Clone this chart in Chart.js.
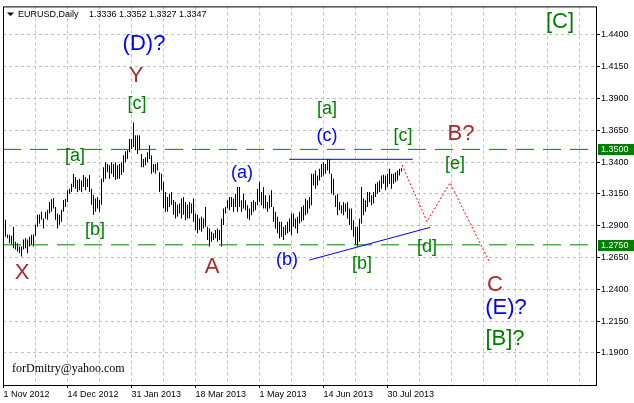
<!DOCTYPE html>
<html>
<head>
<meta charset="utf-8">
<title>EURUSD Daily</title>
<script src="https://cdn.jsdelivr.net/npm/chart.js@4/dist/chart.umd.min.js"></script>
<style>
    html, body { margin: 0; padding: 0; background: #ffffff; }
    canvas { display: block; }
</style>
</head>
<body>
<canvas id="chart" width="634" height="403"></canvas>
<script>
'use strict';

// daily bars, 1 Nov 2012 onwards (bar number 1 = first bar right of the frame)
var highs = [
    1.2947, 1.2832, 1.2830, 1.2822, 1.2892, 1.2775, 1.2762, 1.2736, 1.2736, 1.2791,
    1.2801, 1.2791, 1.2814, 1.2830, 1.2832, 1.2908, 1.2986, 1.2988, 1.3009, 1.2957,
    1.3009, 1.3025, 1.3087, 1.3110, 1.3118, 1.3048, 1.2996, 1.2986, 1.3025, 1.3103,
    1.3110, 1.3181, 1.3191, 1.3230, 1.3308, 1.3282, 1.3259, 1.3269, 1.3256, 1.3298,
    1.3282, 1.3269, 1.3298, 1.3191, 1.3142, 1.3113, 1.3126, 1.3103, 1.3269, 1.3360,
    1.3399, 1.3386, 1.3376, 1.3399, 1.3386, 1.3399, 1.3376, 1.3386, 1.3399, 1.3454,
    1.3485, 1.3493, 1.3581, 1.3581, 1.3711, 1.3610, 1.3610, 1.3610, 1.3464, 1.3425,
    1.3438, 1.3477, 1.3532, 1.3454, 1.3386, 1.3386, 1.3399, 1.3321, 1.3308, 1.3243,
    1.3165, 1.3126, 1.3152, 1.3165, 1.3103, 1.3087, 1.3064, 1.3074, 1.3113, 1.3126,
    1.3087, 1.3064, 1.3087, 1.3074, 1.3113, 1.2996, 1.2986, 1.2957, 1.2970, 1.2957,
    1.3048, 1.2892, 1.2879, 1.2853, 1.2840, 1.2866, 1.2879, 1.2866, 1.2957, 1.3035,
    1.3048, 1.3100, 1.3126, 1.3126, 1.3113, 1.3152, 1.3204, 1.3204, 1.3100, 1.3152,
    1.3100, 1.3061, 1.3035, 1.3087, 1.3100, 1.3087, 1.3191, 1.3243, 1.3165, 1.3204,
    1.3139, 1.3087, 1.3139, 1.3178, 1.3048, 1.3009, 1.2970, 1.2931, 1.2931, 1.2892,
    1.2905, 1.2931, 1.2957, 1.2996, 1.2996, 1.2957, 1.2970, 1.3009, 1.3048, 1.3061,
    1.3113, 1.3100, 1.3126, 1.3308, 1.3308, 1.3334, 1.3295, 1.3347, 1.3386, 1.3399,
    1.3386, 1.3425, 1.3425, 1.3308, 1.3269, 1.3139, 1.3152, 1.3087, 1.3061, 1.3087,
    1.3074, 1.3087, 1.3035, 1.3035, 1.2944, 1.2892, 1.2892, 1.2957, 1.3204, 1.3113,
    1.3100, 1.3165, 1.3165, 1.3139, 1.3165, 1.3230, 1.3243, 1.3256, 1.3295, 1.3300,
    1.3295, 1.3308, 1.3347, 1.3308, 1.3308, 1.3321, 1.3334, 1.3347, 1.3352
];
var lows = [
    1.2814, 1.2801, 1.2762, 1.2752, 1.2723, 1.2713, 1.2697, 1.2684, 1.2658, 1.2713,
    1.2723, 1.2684, 1.2736, 1.2752, 1.2736, 1.2822, 1.2892, 1.2918, 1.2947, 1.2879,
    1.2957, 1.2947, 1.2996, 1.3009, 1.3035, 1.2947, 1.2879, 1.2908, 1.2931, 1.3009,
    1.3048, 1.3087, 1.3152, 1.3165, 1.3204, 1.3191, 1.3165, 1.3178, 1.3165, 1.3204,
    1.3178, 1.3204, 1.3165, 1.3064, 1.2986, 1.3009, 1.3035, 1.3009, 1.3064, 1.3243,
    1.3269, 1.3321, 1.3269, 1.3308, 1.3282, 1.3259, 1.3269, 1.3269, 1.3298, 1.3321,
    1.3399, 1.3425, 1.3477, 1.3503, 1.3516, 1.3493, 1.3464, 1.3493, 1.3360, 1.3360,
    1.3376, 1.3399, 1.3425, 1.3308, 1.3321, 1.3308, 1.3334, 1.3165, 1.3178, 1.3035,
    1.3009, 1.3009, 1.3048, 1.3064, 1.2986, 1.2957, 1.2970, 1.2996, 1.2957, 1.2986,
    1.2944, 1.2957, 1.2957, 1.2996, 1.2931, 1.2866, 1.2840, 1.2866, 1.2853, 1.2879,
    1.2892, 1.2788, 1.2736, 1.2775, 1.2788, 1.2801, 1.2775, 1.2788, 1.2736, 1.2905,
    1.2996, 1.3035, 1.3022, 1.3048, 1.3009, 1.3048, 1.3009, 1.3048, 1.3009, 1.3035,
    1.3022, 1.2957, 1.2944, 1.2983, 1.3009, 1.3022, 1.3061, 1.3087, 1.3061, 1.3035,
    1.3035, 1.3009, 1.3035, 1.3048, 1.2931, 1.2879, 1.2840, 1.2801, 1.2814, 1.2788,
    1.2827, 1.2840, 1.2853, 1.2827, 1.2892, 1.2879, 1.2840, 1.2918, 1.2931, 1.2944,
    1.2983, 1.2996, 1.3035, 1.3061, 1.3217, 1.3191, 1.3217, 1.3256, 1.3282, 1.3295,
    1.3308, 1.3334, 1.3308, 1.3152, 1.3139, 1.3048, 1.2983, 1.3022, 1.2996, 1.2983,
    1.3009, 1.2957, 1.2905, 1.2866, 1.2814, 1.2749, 1.2736, 1.2775, 1.2918, 1.2983,
    1.3009, 1.3048, 1.3087, 1.3061, 1.3074, 1.3126, 1.3152, 1.3165, 1.3191, 1.3230,
    1.3178, 1.3204, 1.3230, 1.3191, 1.3230, 1.3243, 1.3256, 1.3295, 1.3327
];

var symbol = 'EURUSD,Daily';
var lastBar = [1.3336, 1.3352, 1.3327, 1.3347];   // open high low close

var dateLabels = ['1 Nov 2012', '14 Dec 2012', '31 Jan 2013', '18 Mar 2013', '1 May 2013', '14 Jun 2013', '30 Jul 2013'];
var dateBars = [0, 32, 64, 96, 128, 160, 192];
var priceTicks = [1.19, 1.215, 1.24, 1.265, 1.29, 1.315, 1.34, 1.365, 1.39, 1.415, 1.44];
var levels = [1.35, 1.275];

// drawn lines, as [bar number, price]
var resistance = [[142.9, 1.3422], [204.6, 1.3422]];
var supportTrend = [[152.9, 1.2630], [213.25, 1.2887]];
var forecast = [[199.25, 1.3377], [211.75, 1.2933], [223.25, 1.3237], [243.25, 1.2606]];

// wave marks
var waveText = ['(D)?', 'Y', '[c]', '[a]', '[b]', 'X', 'A', '(a)', '(b)', '[a]', '(c)', '[c]', '[b]', '[d]', 'B?', '[e]', 'C', '(E)?', '[B]?', '[C]'];
var waveBar = [70.25, 66.25, 66.75, 35.75, 45.75, 9.25, 104.25, 119.25, 141.75, 161.75, 161.75, 199.75, 179.25, 211.75, 228.75, 225.75, 245.75, 251.25, 250.75, 278.25];
var wavePrice = [1.4328, 1.4078, 1.3853, 1.3448, 1.2863, 1.2529, 1.2575, 1.3315, 1.2630, 1.3814, 1.3603, 1.3603, 1.2599, 1.2731, 1.3619, 1.3385, 1.2435, 1.2256, 1.2007, 1.4499];
var waveDegree = ['blueBig', 'brown', 'green', 'green', 'green', 'brown', 'brown', 'blue', 'blue', 'green', 'blue', 'green', 'green', 'green', 'brown', 'green', 'brown', 'blueBig', 'greenBig', 'greenBig'];

var waveStyles = {
    blueBig: { color: '#0000ff', size: 22 },
    blue: { color: '#0000ff', size: 18 },
    brown: { color: '#a52a2a', size: 22 },
    green: { color: '#008000', size: 18 },
    greenBig: { color: '#008000', size: 22 }
};

var X_MIN = -0.25;
var X_MAX = 296.25;
var Y_MIN = 1.16484;
var Y_MAX = 1.46235;
var AXIS_FONT = { family: 'Liberation Sans', size: 9 };

function toPoints(pairs) {
    var pts = [];
    for (var i = 0; i < pairs.length; i++) {
        pts.push({ x: pairs[i][0], y: pairs[i][1] });
    }
    return pts;
}

function buildBars() {
    var bars = [];
    for (var i = 0; i < highs.length; i++) {
        bars.push({ x: i + 1, y: [lows[i], highs[i]] });
    }
    return bars;
}

function lineSet(points, color, dash) {
    return {
        type: 'line',
        data: points,
        borderColor: color,
        borderWidth: 1,
        borderDash: dash,
        pointRadius: 0,
        fill: false,
        tension: 0,
        order: 0
    };
}

var mtGrid = {
    id: 'mtGrid',
    beforeDatasetsDraw: function (chart) {
        var ctx = chart.ctx;
        var area = chart.chartArea;
        var xs = chart.scales.x;
        var ys = chart.scales.y;
        ctx.save();
        ctx.strokeStyle = '#c0c0c0';
        ctx.lineWidth = 1;
        ctx.setLineDash([3, 3]);
        ctx.beginPath();
        for (var b = 16; b < X_MAX; b += 16) {
            var px = Math.floor(xs.getPixelForValue(b)) + 0.5;
            ctx.moveTo(px, area.top);
            ctx.lineTo(px, area.bottom);
        }
        for (var i = 0; i < priceTicks.length; i++) {
            var py = Math.floor(ys.getPixelForValue(priceTicks[i])) + 0.5;
            ctx.moveTo(area.left, py);
            ctx.lineTo(area.right, py);
        }
        ctx.stroke();
        ctx.restore();
    },
    afterDatasetsDraw: function (chart) {
        var ctx = chart.ctx;
        var xs = chart.scales.x;
        var ys = chart.scales.y;
        ctx.save();
        ctx.textAlign = 'center';
        ctx.textBaseline = 'middle';
        for (var i = 0; i < waveText.length; i++) {
            var st = waveStyles[waveDegree[i]];
            ctx.fillStyle = st.color;
            ctx.font = st.size + 'px "Liberation Sans"';
            ctx.fillText(waveText[i], xs.getPixelForValue(waveBar[i]), ys.getPixelForValue(wavePrice[i]));
        }
        ctx.restore();
    },
    afterDraw: function (chart) {
        var ctx = chart.ctx;
        var area = chart.chartArea;
        var ys = chart.scales.y;
        ctx.save();

        // frame
        ctx.strokeStyle = '#000000';
        ctx.lineWidth = 1;
        ctx.strokeRect(area.left + 0.5, area.top + 0.5, area.right - area.left, area.bottom - area.top);

        // level price boxes on the right scale
        ctx.font = '9px "Liberation Sans"';
        ctx.textBaseline = 'middle';
        for (var i = 0; i < levels.length; i++) {
            var py = ys.getPixelForValue(levels[i]);
            ctx.fillStyle = '#008000';
            ctx.fillRect(area.right + 2, Math.round(py) - 5, 36, 11);
            ctx.fillStyle = '#ffffff';
            ctx.fillText(levels[i].toFixed(4), area.right + 5, py + 0.5);
        }

        // header
        ctx.fillStyle = '#000000';
        ctx.beginPath();
        ctx.moveTo(area.left + 4, area.top + 6);
        ctx.lineTo(area.left + 11, area.top + 6);
        ctx.lineTo(area.left + 7.5, area.top + 9.5);
        ctx.closePath();
        ctx.fill();
        ctx.fillText(symbol, area.left + 15, area.top + 8);
        var ohlc = [];
        for (var k = 0; k < lastBar.length; k++) {
            ohlc.push(lastBar[k].toFixed(4));
        }
        ctx.fillText(ohlc.join(' '), area.left + 86, area.top + 8);

        // signature
        ctx.font = '12px "Liberation Serif"';
        ctx.fillText('forDmitry@yahoo.com', area.left + 9, area.bottom - 16);
        ctx.restore();
    }
};

var datasets = [
    lineSet(toPoints(resistance), '#0000ff', []),
    lineSet(toPoints(supportTrend), '#0000ff', []),
    lineSet(toPoints(forecast), '#ff0000', [2, 2])
];
for (var n = 0; n < levels.length; n++) {
    datasets.push(lineSet([{ x: X_MIN, y: levels[n] }, { x: X_MAX, y: levels[n] }], '#008000', [18, 9]));
}
datasets.push({
    type: 'bar',
    data: buildBars(),
    backgroundColor: '#000000',
    borderWidth: 0,
    barThickness: 1,
    inflateAmount: 0,
    order: 1
});

var chart = new Chart(document.getElementById('chart'), {
    type: 'bar',
    data: { datasets: datasets },
    options: {
        responsive: false,
        animation: false,
        layout: { padding: { left: 3, top: 3, right: 0, bottom: 0 } },
        plugins: {
            legend: { display: false },
            tooltip: { enabled: false }
        },
        scales: {
            x: {
                type: 'linear',
                min: X_MIN,
                max: X_MAX,
                offset: false,
                grid: { display: true, drawOnChartArea: false, drawTicks: true, tickLength: 3, tickColor: '#000000', offset: false },
                border: { display: false },
                afterBuildTicks: function (scale) {
                    scale.ticks = dateBars.map(function (v) { return { value: v }; });
                },
                afterFit: function (scale) {
                    scale.height = 18;
                },
                ticks: {
                    autoSkip: false,
                    maxRotation: 0,
                    minRotation: 0,
                    align: 'start',
                    padding: 1,
                    color: '#000000',
                    font: AXIS_FONT,
                    callback: function (value) {
                        var k = dateBars.indexOf(value);
                        return k < 0 ? '' : dateLabels[k];
                    }
                }
            },
            y: {
                position: 'right',
                min: Y_MIN,
                max: Y_MAX,
                grid: { display: true, drawOnChartArea: false, drawTicks: true, tickLength: 4, tickColor: '#000000' },
                border: { display: false },
                afterBuildTicks: function (scale) {
                    scale.ticks = priceTicks.map(function (v) { return { value: v }; });
                },
                afterFit: function (scale) {
                    scale.width = 38;
                },
                ticks: {
                    padding: 1,
                    color: '#000000',
                    font: AXIS_FONT,
                    callback: function (value) {
                        return Number(value).toFixed(4);
                    }
                }
            }
        }
    },
    plugins: [mtGrid]
});
</script>
</body>
</html>
